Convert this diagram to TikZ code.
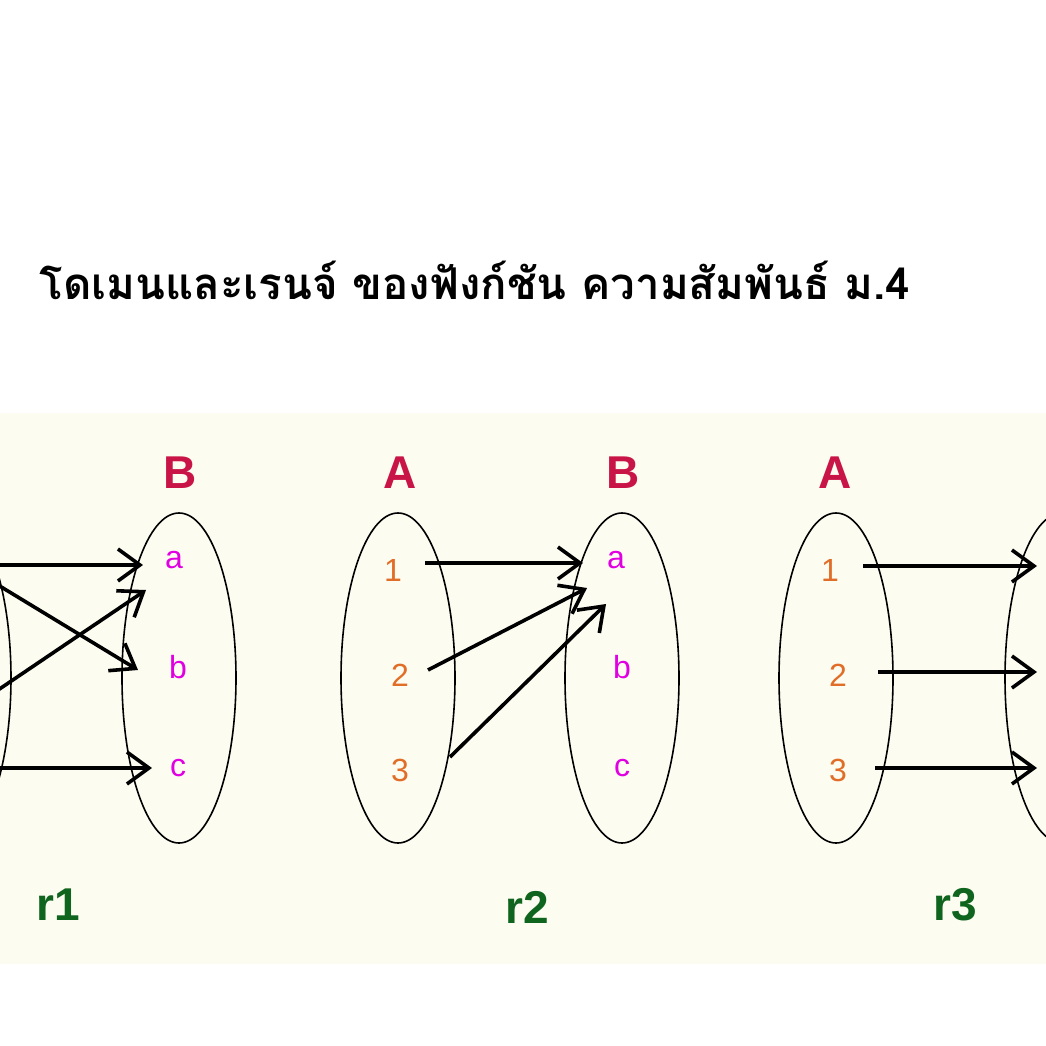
\documentclass[tikz,border=0pt]{standalone}
\usepackage{fontspec}
\setmainfont{Liberation Sans}
\newfontfamily\thaifont[Script=Thai]{Loma}
\usetikzlibrary{arrows.meta}
\definecolor{cream}{RGB}{253,252,240}
\definecolor{setc}{RGB}{200,20,70}
\definecolor{elc}{RGB}{225,0,225}
\definecolor{numc}{RGB}{225,110,40}
\definecolor{rc}{RGB}{15,100,30}
\begin{document}
\begin{tikzpicture}[x=1pt,y=-1pt,
  setlab/.style={text=setc,font=\bfseries\fontsize{46}{46}\selectfont},
  elem/.style={text=elc,font=\fontsize{32}{32}\selectfont},
  num/.style={text=numc,font=\fontsize{32}{32}\selectfont},
  rlab/.style={text=rc,font=\bfseries\fontsize{46}{46}\selectfont},
  oval/.style={draw=black,line width=1.6pt},
  arr/.style={line width=3.6pt,-{Straight Barb[length=22pt,width=32pt,line width=3.6pt]}}]
\useasboundingbox (0,0) rectangle (1046,1046);
\clip (0,0) rectangle (1046,1046);
\fill[white] (0,0) rectangle (1046,1046);
\fill[cream] (0,413) rectangle (1046,964);
\node[anchor=west,font=\thaifont\bfseries\fontsize{43.8}{44}\selectfont] (title) at (36,280) {โดเมนและเรนจ์ ของฟังก์ชัน ความสัมพันธ์ ม.4};
% r1
\draw[oval] (-47,678) ellipse [x radius=58,y radius=165];
\draw[oval] (179,678) ellipse [x radius=57,y radius=165];
\node[setlab] (B1) at (180,473) {B};
\node[elem] (a1) at (174,560) {a};
\node[elem] (b1) at (178,667) {b};
\node[elem] (c1) at (178,768) {c};
\node[rlab] (r1) at (58,905) {r1};
\coordinate (s1) at (-2,565); \coordinate (s2) at (-2,585);
\coordinate (s3) at (-2,690); \coordinate (s4) at (-2,768);
\coordinate (t1) at (143,565); \coordinate (t2) at (138,670);
\coordinate (t3) at (146,590); \coordinate (t4) at (152,768);
\draw[arr] (s1) -- (t1);
\draw[arr] (s2) -- (t2);
\draw[arr] (s3) -- (t3);
\draw[arr] (s4) -- (t4);
% r2
\draw[oval] (398,678) ellipse [x radius=57,y radius=165];
\draw[oval] (622,678) ellipse [x radius=57,y radius=165];
\node[setlab] (A2) at (400,473) {A};
\node[setlab] (B2) at (623,473) {B};
\node[num] (n21) at (393,570) {1};
\node[num] (n22) at (400,675) {2};
\node[num] (n23) at (400,770) {3};
\node[elem] (a2) at (616,560) {a};
\node[elem] (b2) at (622,667) {b};
\node[elem] (c2) at (622,768) {c};
\node[rlab] (r2) at (527,907) {r2};
\coordinate (u1) at (425,563); \coordinate (v1) at (583,563);
\coordinate (u2) at (428,670); \coordinate (v2) at (587,588);
\coordinate (u3) at (450,757); \coordinate (v3) at (606,604);
\draw[arr] (u1) -- (v1);
\draw[arr] (u2) -- (v2);
\draw[arr] (u3) -- (v3);
% r3
\draw[oval] (836,678) ellipse [x radius=57,y radius=165];
\draw[oval] (1062,678) ellipse [x radius=57,y radius=165];
\node[setlab] (A3) at (835,473) {A};
\node[setlab] (B3) at (1062,473) {B};
\node[num] (n31) at (830,570) {1};
\node[num] (n32) at (838,675) {2};
\node[num] (n33) at (838,770) {3};
\node[elem] (a3) at (1056,560) {a};
\node[elem] (b3) at (1062,667) {b};
\node[elem] (c3) at (1062,768) {c};
\node[rlab] (r3) at (955,905) {r3};
\coordinate (w1) at (863,566); \coordinate (z1) at (1037,566);
\coordinate (w2) at (878,672); \coordinate (z2) at (1037,672);
\coordinate (w3) at (875,768); \coordinate (z3) at (1037,768);
\draw[arr] (w1) -- (z1);
\draw[arr] (w2) -- (z2);
\draw[arr] (w3) -- (z3);
\end{tikzpicture}
\end{document}
